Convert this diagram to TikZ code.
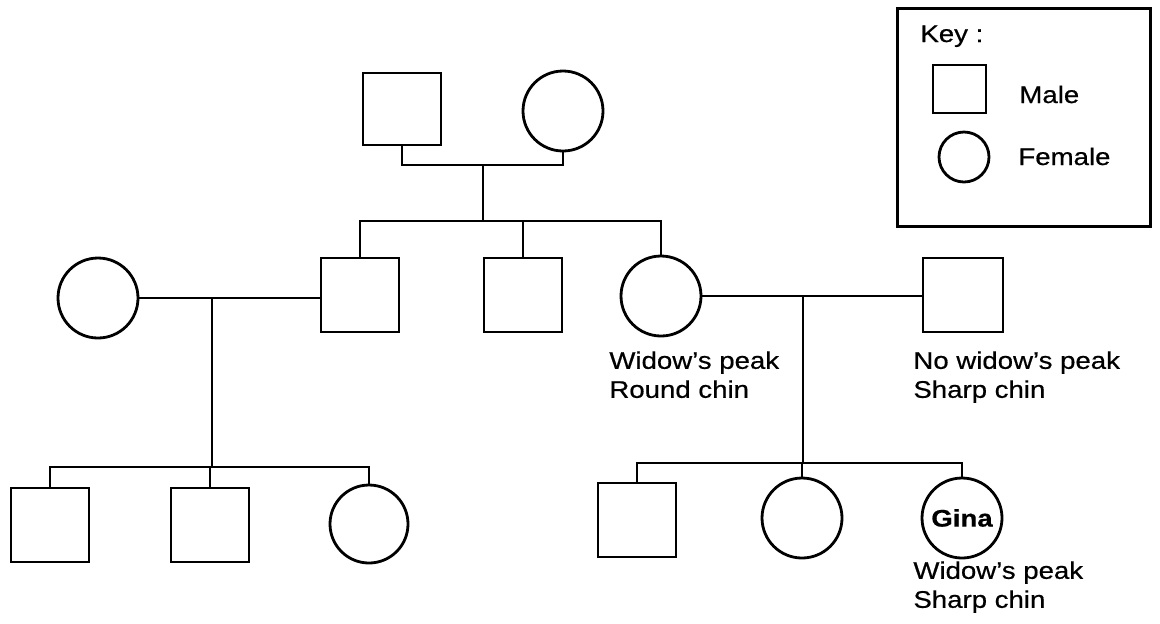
\documentclass[tikz,border=0pt]{standalone}
\usepackage{fontspec}
\setmainfont{Liberation Sans}[FakeStretch=1.15, FakeBold=0.6]
\usetikzlibrary{positioning}
\tikzset{
  male/.style={
    rectangle,
    draw,
    line width=1.4pt,
    minimum width=39pt,
    minimum height=37pt,
    inner sep=0pt
  },
  female/.style={
    circle,
    draw,
    line width=1.4pt,
    minimum size=40pt,
    inner sep=0pt
  },
  link/.style={line width=1.4pt},
  trait/.style={
    anchor=north west,
    align=left,
    inner sep=0pt,
    font=\fontsize{12}{14.5}\selectfont
  },
  keytext/.style={
    anchor=base west,
    inner sep=0pt,
    font=\fontsize{12}{14.5}\selectfont
  }
}

\begin{document}
\begin{tikzpicture}[x=0.5pt, y=-0.5pt]
  \useasboundingbox (0,0) rectangle (1160,623);

  % first generation
  \node[male, minimum height=36pt] (gf) at (402,109) {};
  \node[female] (gm) at (563,111) {};

  % second generation
  \node[female] (wife) at (98,298) {};
  \node[male] (son) at (360,295) {};
  \node[male] (son2) at (523,295) {};
  \node[female] (dau) at (661,296) {};
  \node[male, minimum width=40pt] (husb) at (963,295) {};

  % third generation
  \node[male] (c1) at (50,525) {};
  \node[male] (c2) at (210,525) {};
  \node[female, minimum size=39pt] (c3) at (369,524) {};
  \node[male] (c4) at (637,520) {};
  \node[female] (c5) at (802,518) {};
  \node[female, font=\fontsize{12}{14.5}\selectfont\bfseries] (gina) at (962,518) {Gina};

  % junctions
  \coordinate (p1) at (483,165);
  \coordinate (s1) at (483,221);
  \coordinate (m1) at (212,298);
  \coordinate (s2) at (212,467);
  \coordinate (m2) at (803,296);
  \coordinate (s3) at (803,463);

  \draw[link] (gf.south) |- (p1) -| (gm.south);
  \draw[link] (p1) -- (s1);
  \draw[link] (son.north) |- (s1) -| (dau.north);
  \draw[link] (son2.north) -- (son2.north |- s1);

  \draw[link] (wife.east) -- (wife.east -| son.west);
  \draw[link] (m1) -- (s2);
  \draw[link] (c1.north) |- (s2) -| (c3.north);
  \draw[link] (c2.north) -- (c2.north |- s2);

  \draw[link] (dau.east) -- (dau.east -| husb.west);
  \draw[link] (m2) -- (s3);
  \draw[link] (c4.north) |- (s3) -| (gina.north);
  \draw[link] (c5.north) -- (c5.north |- s3);

  % traits
  \node[trait] (dautrait) at (609,351) {Widow’s peak\\Round chin};
  \node[trait] (husbtrait) at (913,351) {No widow’s peak\\Sharp chin};
  \node[trait] (ginatrait) at (913,561) {Widow’s peak\\Sharp chin};

  % key
  \node[draw, line width=1.5pt, minimum width=126.5pt, minimum height=109pt] (keybox) at (1023.5,117) {};
  \node[keytext] (keytitle) at (920,42) {Key :};
  \node[male, minimum width=26.5pt, minimum height=24pt] (keymale) at (959.5,89) {};
  \node[female, minimum size=25pt] (keyfemale) at (964,157) {};
  \node[keytext] (maletext) at (1019,103) {Male};
  \node[keytext] (femaletext) at (1018,165) {Female};
\end{tikzpicture}
\end{document}
